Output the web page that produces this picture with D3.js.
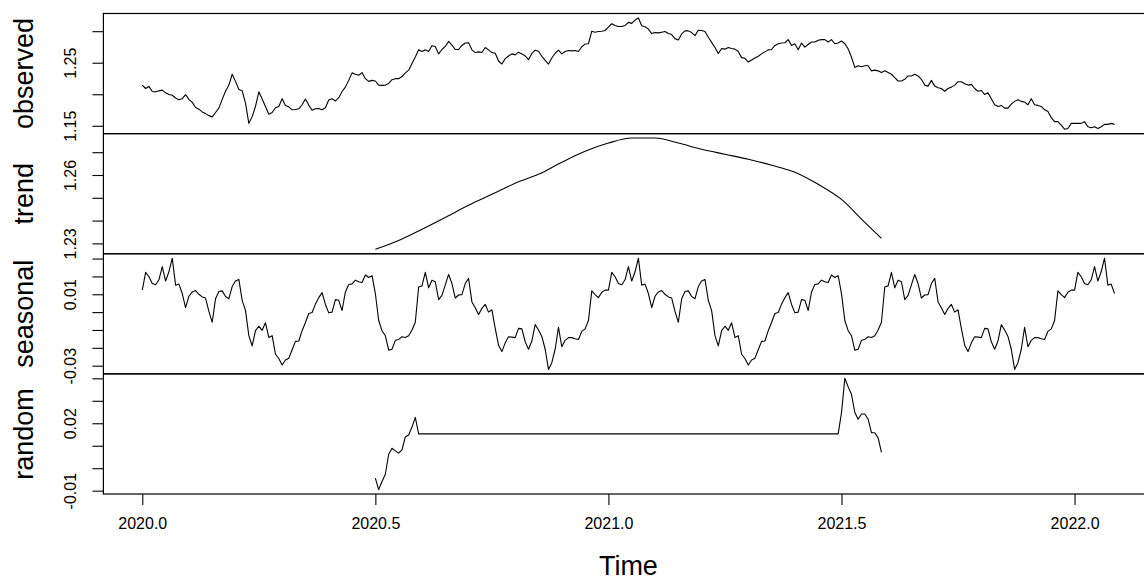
<!DOCTYPE html>
<html>
<head>
<meta charset="utf-8">
<script src="https://cdn.jsdelivr.net/npm/d3@7"></script>
<style>
  body { margin: 0; background: #fff; }
  svg { display: block; }
  text { font-family: "Liberation Sans", Arial, Helvetica, sans-serif; fill: #000; }
</style>
</head>
<body>
<svg id="chart" width="1144" height="581"></svg>
<script>
// Decomposition of an additive time series (observations per year = frequency)
const frequency = 140;
const observedStart = 2020;

const observed = [
  1.2145, 1.2091, 1.2124, 1.2043, 1.2038, 1.2054, 1.2065, 1.2022, 1.1995, 1.1984,
  1.1941, 1.1914, 1.1930, 1.1995, 1.1919, 1.1871, 1.1790, 1.1763, 1.1720, 1.1693,
  1.1661, 1.1640, 1.1710, 1.1780, 1.1919, 1.2048, 1.2145, 1.2317, 1.2204, 1.2075,
  1.2054, 1.1860, 1.1538, 1.1645, 1.1806, 1.2038, 1.1925, 1.1806, 1.1683, 1.1710,
  1.1785, 1.1806, 1.1930, 1.1823, 1.1801, 1.1753, 1.1758, 1.1769, 1.1833, 1.1925,
  1.1828, 1.1747, 1.1769, 1.1774, 1.1753, 1.1785, 1.1909, 1.1930, 1.1892, 1.1946,
  1.2043, 1.2113, 1.2220, 1.2339, 1.2317, 1.2301, 1.2344, 1.2247, 1.2204, 1.2220,
  1.2210, 1.2145, 1.2140, 1.2145, 1.2172, 1.2231, 1.2247, 1.2247,
  1.2280, 1.2339, 1.2382, 1.2489, 1.2591, 1.2704, 1.2677, 1.2704, 1.2677, 1.2769,
  1.2758, 1.2640, 1.2710, 1.2758, 1.2839, 1.2780, 1.2710, 1.2710, 1.2774, 1.2812,
  1.2817, 1.2704, 1.2661, 1.2672, 1.2661, 1.2742, 1.2704, 1.2661, 1.2650, 1.2527,
  1.2479, 1.2565, 1.2607, 1.2640, 1.2624, 1.2667, 1.2640, 1.2607, 1.2548, 1.2645,
  1.2699, 1.2683, 1.2602, 1.2538, 1.2479, 1.2575, 1.2650, 1.2699, 1.2640, 1.2677,
  1.2694, 1.2688, 1.2694, 1.2677, 1.2753, 1.2796, 1.2801, 1.3000, 1.2984, 1.2995,
  1.3000, 1.3011, 1.3064, 1.3118, 1.3091, 1.3075, 1.3075, 1.3091, 1.3140, 1.3124,
  1.3177, 1.3210, 1.3086, 1.3070, 1.3032, 1.2962, 1.2978, 1.2973, 1.2984, 1.2995,
  1.2962, 1.2946, 1.2882, 1.2860, 1.2957, 1.3005, 1.3005, 1.2978, 1.2930, 1.3016,
  1.3011, 1.2995, 1.2903, 1.2823, 1.2742, 1.2645, 1.2726, 1.2715, 1.2742, 1.2726,
  1.2715, 1.2677, 1.2581, 1.2570, 1.2511, 1.2543, 1.2575, 1.2602, 1.2640, 1.2672, 1.2704,
  1.2710, 1.2774, 1.2801, 1.2812, 1.2817, 1.2866, 1.2774, 1.2801, 1.2704, 1.2812,
  1.2747, 1.2790, 1.2828, 1.2828, 1.2855, 1.2866, 1.2866, 1.2828, 1.2866, 1.2801,
  1.2812, 1.2844, 1.2801, 1.2720, 1.2586, 1.2425, 1.2452, 1.2435, 1.2452, 1.2452,
  1.2371, 1.2382, 1.2371, 1.2344, 1.2371, 1.2344, 1.2317, 1.2263, 1.2210, 1.2210,
  1.2237, 1.2290, 1.2290, 1.2317, 1.2290, 1.2237, 1.2145, 1.2129, 1.2220, 1.2129,
  1.2102, 1.2091, 1.2048, 1.2091, 1.2113, 1.2145, 1.2199, 1.2199, 1.2167, 1.2145,
  1.2156, 1.2091, 1.2048, 1.2059, 1.1995, 1.2022, 1.1930, 1.1833, 1.1806, 1.1823,
  1.1780, 1.1780, 1.1844, 1.1887, 1.1914, 1.1887, 1.1876, 1.1833, 1.1930, 1.1833,
  1.1823, 1.1806, 1.1753, 1.1726, 1.1629, 1.1565, 1.1565, 1.1511, 1.1446, 1.1457,
  1.1538, 1.1538, 1.1538, 1.1538, 1.1565, 1.1484, 1.1468, 1.1484, 1.1457, 1.1484,
  1.1522, 1.1522, 1.1538, 1.1522
];

// One full year of the seasonal figure; it repeats every year
const seasonalFigure = [
   0.0123,  0.0223,  0.0198,  0.0160,  0.0153,  0.0181,  0.0255,  0.0174,  0.0226,  0.0302,
   0.0151,  0.0157,  0.0104,  0.0025,  0.0089,  0.0113,  0.0121,  0.0100,  0.0085,  0.0079,
   0.0004, -0.0057,  0.0075,  0.0115,  0.0119,  0.0087,  0.0075,  0.0143,  0.0174,  0.0183,
   0.0066,  0.0008, -0.0132, -0.0189, -0.0104, -0.0079, -0.0102, -0.0060, -0.0142, -0.0132,
  -0.0236, -0.0260, -0.0296, -0.0268, -0.0258, -0.0211, -0.0164, -0.0162, -0.0104, -0.0058,
  -0.0008, -0.0002,  0.0045,  0.0081,  0.0109,  0.0043, -0.0004,  0.0000,  0.0070,  0.0066,
   0.0009,  0.0113,  0.0155,  0.0158,  0.0179,  0.0170,  0.0166,  0.0208,  0.0194,  0.0204,
   0.0104, -0.0047, -0.0104, -0.0132, -0.0213, -0.0208, -0.0158, -0.0153, -0.0138, -0.0142,
  -0.0132, -0.0100, -0.0057,  0.0141,  0.0147,  0.0223,  0.0136,  0.0179,  0.0170,  0.0070,
   0.0094,  0.0153,  0.0211,  0.0160,  0.0079,  0.0096,  0.0098,  0.0160,  0.0189,  0.0057,
   0.0025, -0.0013,  0.0021,  0.0043,  0.0000,  0.0013, -0.0091, -0.0185, -0.0221, -0.0172,
  -0.0138, -0.0140, -0.0143, -0.0091, -0.0094, -0.0166, -0.0208, -0.0162, -0.0070, -0.0100,
  -0.0136, -0.0208, -0.0321, -0.0283, -0.0208, -0.0085, -0.0194, -0.0158, -0.0143, -0.0143,
  -0.0149, -0.0153, -0.0108, -0.0094, -0.0047,  0.0119,  0.0098,  0.0081,  0.0111,  0.0123
];

// Moving-average trend (defined only where the full window is available)
const trendYears = [
  2020.50, 2020.55, 2020.60, 2020.65, 2020.70, 2020.75, 2020.80, 2020.85, 2020.90, 2020.95,
  2021.00, 2021.05, 2021.10, 2021.15, 2021.20, 2021.25, 2021.30, 2021.35, 2021.40, 2021.45,
  2021.50, 2021.55, 2021.5857
];
const trendValues = [
  1.2274, 1.2313, 1.2362, 1.2414, 1.2467, 1.2515, 1.2564, 1.2603, 1.2656, 1.2704,
  1.2740, 1.2762, 1.2762, 1.2740, 1.2713, 1.2691, 1.2669, 1.2643, 1.2612, 1.2559,
  1.2493, 1.2392, 1.2322
];

// Remainder: two recorded stretches, joined by a constant level between them
const randomHeadStart = 2020.5;
const randomHead = [
  -0.0044, -0.0095, -0.0059, -0.0027, 0.0062, 0.0089, 0.0077, 0.0067, 0.0082, 0.0139,
   0.0148,  0.0183,  0.0226,  0.0153
];
const randomTailStart = 2021.4929;
const randomTail = [
  0.0153, 0.0248, 0.0400, 0.0362, 0.0329, 0.0248, 0.0218, 0.0241, 0.0241, 0.0218,
  0.0158, 0.0158, 0.0135, 0.0071
];

// Axis ticks and the subset of ticks that carry a label
const xTicks = [2020, 2020.5, 2021, 2021.5, 2022];
const observedTicks = [1.15, 1.20, 1.25, 1.30];
const observedLabels = [1.15, 1.25];
const trendTicks = [1.23, 1.24, 1.25, 1.26, 1.27];
const trendLabels = [1.23, 1.26];
const seasonalTicks = [-0.03, -0.02, -0.01, 0, 0.01, 0.02, 0.03];
const seasonalLabels = [-0.03, 0.01];
const randomTicks = [-0.01, 0, 0.01, 0.02, 0.03, 0.04];
const randomLabels = [-0.01, 0.02];
const panelNames = ["observed", "trend", "seasonal", "random"];

// ---- build series ----
const timeAt = i => observedStart + i / frequency;
const observedSeries = observed.map((v, i) => ({ t: timeAt(i), v }));
const seasonalSeries = observed.map((_, i) => ({ t: timeAt(i), v: seasonalFigure[i % frequency] }));
const trendSeries = trendYears.map((t, i) => ({ t, v: trendValues[i] }));
const randomSeries = [
  ...randomHead.map((v, k) => ({ t: randomHeadStart + k / frequency, v })),
  ...randomTail.map((v, k) => ({ t: randomTailStart + k / frequency, v }))
];

const panels = [
  { name: panelNames[0], data: observedSeries, ticks: observedTicks, labels: observedLabels },
  { name: panelNames[1], data: trendSeries, ticks: trendTicks, labels: trendLabels, smooth: true },
  { name: panelNames[2], data: seasonalSeries, ticks: seasonalTicks, labels: seasonalLabels },
  { name: panelNames[3], data: randomSeries, ticks: randomTicks, labels: randomLabels }
];

// ---- layout ----
const svg = d3.select("#chart");
const plotLeft = 103.4, plotRight = 1153.4, plotTop = 13.5, plotBottom = 494;
const panelH = (plotBottom - plotTop) / panels.length;

// R-style axis range: data extent widened by 4% on each side
const pad = ([a, b]) => { const d = (b - a) * 0.04; return [a - d, b + d]; };

const x = d3.scaleLinear()
  .domain(pad([observedSeries[0].t, observedSeries[observedSeries.length - 1].t]))
  .range([plotLeft, plotRight]);

const twoDec = d => d3.format(".2f")(d).replace("\u2212", "-");
const fontTick = 16, fontTitle = 27;

panels.forEach((p, k) => {
  const y0 = plotTop + k * panelH, y1 = y0 + panelH;
  const y = d3.scaleLinear().domain(pad(d3.extent(p.data, d => d.v))).range([y1, y0]);

  const line = d3.line().x(d => x(d.t)).y(d => y(d.v));
  if (p.smooth) line.curve(d3.curveMonotoneX);

  svg.append("path")
    .datum(p.data)
    .attr("d", line)
    .attr("fill", "none")
    .attr("stroke", "#000")
    .attr("stroke-width", 1.1)
    .attr("stroke-linejoin", "round");

  // panel frame
  svg.append("rect")
    .attr("x", plotLeft).attr("y", y0)
    .attr("width", plotRight - plotLeft).attr("height", panelH)
    .attr("fill", "none").attr("stroke", "#000").attr("stroke-width", 1.2);

  // left axis
  const ax = svg.append("g")
    .attr("transform", `translate(${plotLeft},0)`)
    .call(d3.axisLeft(y)
      .tickValues(p.ticks)
      .tickSize(11)
      .tickFormat(d => p.labels.some(l => Math.abs(l - d) < 1e-9) ? twoDec(d) : ""));
  ax.select(".domain").remove();
  ax.selectAll(".tick line").attr("stroke", "#000").attr("stroke-width", 1.1);
  ax.selectAll(".tick text")
    .attr("x", 0).attr("dy", 0)
    .attr("text-anchor", "middle")
    .attr("font-size", fontTick)
    .attr("font-family", "Liberation Sans, Arial, sans-serif")
    .attr("transform", "translate(-27,0) rotate(-90)");

  // panel title
  svg.append("text")
    .attr("transform", `translate(33,${(y0 + y1) / 2}) rotate(-90)`)
    .attr("text-anchor", "middle")
    .attr("font-size", fontTitle)
    .text(p.name);
});

// bottom time axis
const bx = svg.append("g")
  .attr("transform", `translate(0,${plotBottom})`)
  .call(d3.axisBottom(x).tickValues(xTicks).tickSize(11).tickFormat(d3.format(".1f")));
bx.select(".domain").remove();
bx.selectAll(".tick line").attr("stroke", "#000").attr("stroke-width", 1.1);
bx.selectAll(".tick text")
  .attr("y", 35).attr("dy", 0)
  .attr("font-size", fontTick)
  .attr("font-family", "Liberation Sans, Arial, sans-serif");

svg.append("text")
  .attr("x", (plotLeft + plotRight) / 2)
  .attr("y", 575)
  .attr("text-anchor", "middle")
  .attr("font-size", fontTitle)
  .text("Time");
</script>
</body>
</html>
